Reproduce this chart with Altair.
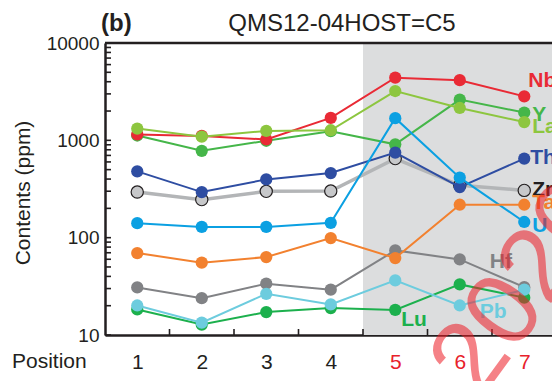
import altair as alt
import pandas as pd

positions = [1, 2, 3, 4, 5, 6, 7]

# element contents (ppm) at positions 1..7
Nb = [1150, 1110, 1020, 1700, 4400, 4150, 2830]
Y_ = [1120, 780, 990, 1240, 910, 2620, 1930]
La = [1320, 1090, 1250, 1270, 3210, 2150, 1540]
Th = [480, 294, 397, 461, 748, 331, 649]
Zr = [294, 246, 299, 301, 649, 345, 306]
U = [141, 129, 129, 142, 1690, 414, 145]
Ta = [69.5, 55.4, 63.2, 99, 61.7, 218, 218]
Hf = [30.8, 23.9, 33.7, 29.2, 74, 59.8, 31]
Pb = [20.1, 13.4, 26.5, 20.6, 36.4, 20.1, 29.2]
Lu = [18.3, 12.8, 17.2, 18.9, 18.1, 33.1, 24.2]

series = {"Zr": Zr, "Hf": Hf, "Lu": Lu, "Y": Y_, "Nb": Nb, "La": La,
          "Th": Th, "U": U, "Ta": Ta, "Pb": Pb}

x_tick_labels = [1, 2, 3, 4, 5, 6, 7]
x_minor_ticks = [1.5, 2.5, 3.5, 4.5, 5.5, 6.5]
y_tick_labels = [10, 100, 1000, 10000]
y_minor_ticks = [m * d for d in (10, 100, 1000) for m in range(1, 10)] + [10000]
shade_from = [4.5]

colors = {"Nb": "#E92A35", "Y": "#45B649", "La": "#8DC63F", "Th": "#2E4DA2",
          "Zr": "#B5B7B9", "U": "#0BA0E2", "Ta": "#F2812F", "Hf": "#818285",
          "Pb": "#6DCCDE", "Lu": "#1CB04D"}
label_colors = dict(colors)
label_colors["Zr"] = "#231F20"

rows = []
for el, vals in series.items():
    for p, v in zip(positions, vals):
        rows.append({"el": el, "pos": p, "val": v})
df = pd.DataFrame(rows)

W, H = 447, 292
FONT = "Liberation Sans"
BLACK = "#231F20"
XMAX = 0.5 + W / 64.5

xs = alt.Scale(domain=[0.5, XMAX], nice=False, zero=False)
ys = alt.Scale(type="log", domain=[10, 10000], nice=False)

xaxis = alt.Axis(values=x_tick_labels, ticks=False, grid=False, title=None,
                 domainColor=BLACK, domainWidth=2.5, labelFont=FONT,
                 labelFontSize=21, labelPadding=16, labelFlush=False,
                 labelColor={"condition": {"test": "datum.value >= 5", "value": "#E8212B"},
                             "value": BLACK})
yaxis = alt.Axis(values=y_tick_labels, ticks=False, grid=False, title=None,
                 format="d", domainColor=BLACK, domainWidth=2.5, labelFont=FONT,
                 labelFontSize=19, labelPadding=6, labelFlush=False,
                 labelColor=BLACK, labelOverlap=False)

layers = []

shade = alt.Chart(pd.DataFrame({"x": shade_from, "x2": [XMAX]})).mark_rect(
    color="#DCDDDE").encode(
    x=alt.X("x:Q", scale=xs, axis=xaxis), x2="x2:Q",
    y=alt.value(0), y2=alt.value(H))
layers.append(shade)

ytick = alt.Chart(pd.DataFrame({"v": y_minor_ticks})).mark_rule(
    color=BLACK, strokeWidth=1.6).encode(
    y=alt.Y("v:Q", scale=ys, axis=yaxis), x=alt.value(0), x2=alt.value(6))
layers.append(ytick)

xtick = alt.Chart(pd.DataFrame({"v": x_minor_ticks})).mark_rule(
    color=BLACK, strokeWidth=1.6).encode(
    x=alt.X("v:Q", scale=xs, axis=xaxis), y=alt.value(H), y2=alt.value(H - 6))
layers.append(xtick)

top = alt.Chart(pd.DataFrame({"a": [0]})).mark_rule(
    color=BLACK, strokeWidth=2.5).encode(
    x=alt.value(0), x2=alt.value(W), y=alt.value(0))
layers.append(top)

base = alt.Chart(df)
X = alt.X("pos:Q", scale=xs, axis=xaxis)
Yenc = alt.Y("val:Q", scale=ys, axis=yaxis)

for el in series:
    c = colors[el]
    f = base.transform_filter(alt.datum.el == el)
    if el == "Zr":
        line = f.mark_line(color="#B3B5B7", strokeWidth=3.5).encode(x=X, y=Yenc)
        pts = f.mark_circle(size=150, fill="#C7C8CA", stroke=BLACK,
                            strokeWidth=1.2, opacity=1).encode(x=X, y=Yenc)
    else:
        line = f.mark_line(color=c, strokeWidth=2).encode(x=X, y=Yenc)
        pts = f.mark_circle(size=150, color=c, opacity=1).encode(x=X, y=Yenc)
    layers += [line, pts]

# element labels anchored to a data point: (position, dx, dy)
label_anchor = {"Nb": (7, 4, -15), "Y": (7, 8, 2), "La": (7, 8, 5),
                "Th": (7, 6, -1), "Zr": (7, 8, 0), "Ta": (7, 8, -2),
                "U": (7, 8, 4), "Hf": (6, 30, 3), "Pb": (6, 20, 7),
                "Lu": (5, 6, 10)}
for name, (p, dx, dy) in label_anchor.items():
    t = base.transform_filter((alt.datum.el == name) & (alt.datum.pos == p)).mark_text(
        text=name, align="left", baseline="middle", dx=dx, dy=dy, font=FONT,
        fontSize=21, fontWeight="bold", color=label_colors[name]).encode(x=X, y=Yenc)
    layers.append(t)

panel = alt.Chart(pd.DataFrame({"t": ["(b)"]})).mark_text(
    font=FONT, fontSize=24, fontWeight="bold", align="left",
    baseline="alphabetic", color=BLACK).encode(
    text="t:N", x=alt.value(-4), y=alt.value(-12))
title = alt.Chart(pd.DataFrame({"t": ["QMS12-04HOST=C5"]})).mark_text(
    font=FONT, fontSize=24, align="center", baseline="alphabetic",
    color=BLACK).encode(text="t:N", x=alt.value(237), y=alt.value(-12))
ytitle = alt.Chart(pd.DataFrame({"t": ["Contents (ppm)"]})).mark_text(
    font=FONT, fontSize=21, align="center", baseline="middle", angle=270,
    color=BLACK).encode(text="t:N", x=alt.value(-81), y=alt.value(150))
xtitle = alt.Chart(pd.DataFrame({"t": ["Position"]})).mark_text(
    font=FONT, fontSize=21, align="left", baseline="middle",
    color=BLACK).encode(text="t:N", x=alt.value(-93), y=alt.value(319))
layers += [panel, title, ytitle, xtitle]

wm = alt.Chart(pd.DataFrame({"t": ["2020"]})).mark_text(
    font=FONT, fontSize=104, align="center", baseline="middle", angle=306,
    color="#EE1C25", opacity=0.55).encode(text="t:N", x=alt.value(418), y=alt.value(246))
layers.append(wm)

chart = alt.layer(*layers).properties(
    width=W, height=H,
    autosize=alt.AutoSizeParams(type="none"),
    padding={"left": 105, "top": 43, "right": 0, "bottom": 46},
    background="white",
).configure_view(stroke=None)

chart.save("out.html", embed_options={"renderer": "svg", "actions": False})
